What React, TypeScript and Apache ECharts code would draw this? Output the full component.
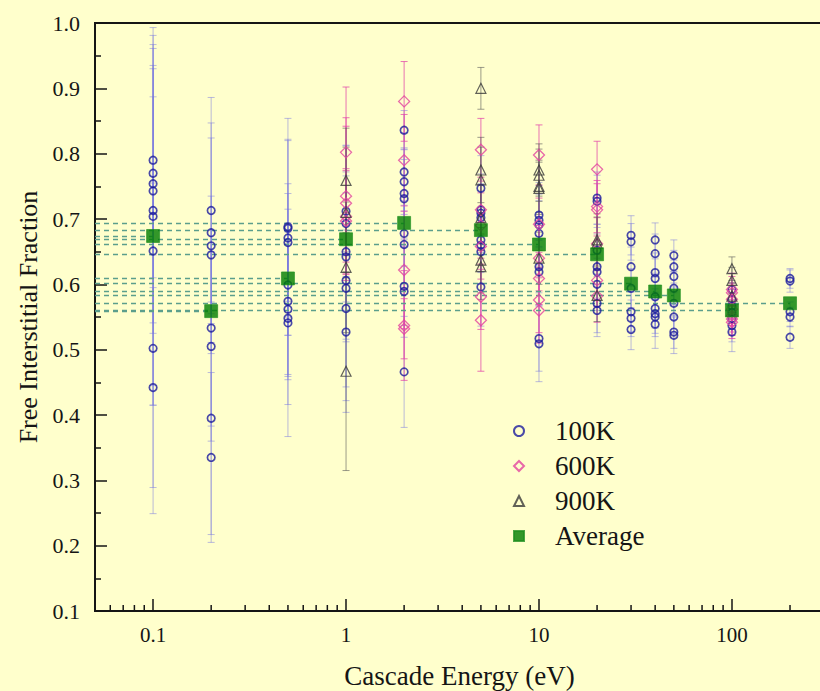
import React, { useEffect, useRef } from "react";
import * as echarts from "echarts";

// Axis ranges and ticks
const X_MIN = 0.05;
const X_MAX = 300;
const Y_MIN = 0.1;
const Y_MAX = 1.0;
const xMinorTicks = [
  0.06, 0.07, 0.08, 0.09, 0.2, 0.3, 0.4, 0.5, 0.6, 0.7, 0.8, 0.9,
  2, 3, 4, 5, 6, 7, 8, 9, 20, 30, 40, 50, 60, 70, 80, 90, 200,
];

// Average per cascade energy
const energies = [0.1, 0.2, 0.5, 1, 2, 5, 10, 20, 30, 40, 50, 100, 200];
const averages = [0.674, 0.559, 0.609, 0.669, 0.694, 0.683, 0.661, 0.646, 0.601, 0.589, 0.583, 0.56, 0.571];

// [energy (eV), free interstitial fraction, error]
const k100: [number, number, number][] = [
  [0.1, 0.79, 0.145], [0.1, 0.77, 0.16], [0.1, 0.754, 0.213], [0.1, 0.743, 0.218], [0.1, 0.713, 0.268],
  [0.1, 0.704, 0.289], [0.1, 0.651, 0.236], [0.1, 0.502, 0.253], [0.1, 0.442, 0.153],
  [0.2, 0.713, 0.173], [0.2, 0.679, 0.168], [0.2, 0.659, 0.165], [0.2, 0.645, 0.09], [0.2, 0.533, 0.15],
  [0.2, 0.505, 0.145], [0.2, 0.395, 0.178], [0.2, 0.335, 0.13],
  [0.5, 0.688, 0.166], [0.5, 0.686, 0.136], [0.5, 0.671, 0.149], [0.5, 0.664, 0.09], [0.5, 0.599, 0.14],
  [0.5, 0.574, 0.12], [0.5, 0.562, 0.1], [0.5, 0.548, 0.132], [0.5, 0.541, 0.174],
  [1, 0.712, 0.1], [1, 0.693, 0.12], [1, 0.65, 0.09], [1, 0.642, 0.13], [1, 0.606, 0.09],
  [1, 0.594, 0.172], [1, 0.563, 0.12], [1, 0.527, 0.123],
  [2, 0.836, 0.03], [2, 0.772, 0.06], [2, 0.757, 0.05], [2, 0.739, 0.07], [2, 0.731, 0.06],
  [2, 0.678, 0.05], [2, 0.661, 0.06], [2, 0.597, 0.06], [2, 0.589, 0.07], [2, 0.466, 0.085],
  [5, 0.747, 0.05], [5, 0.714, 0.04], [5, 0.709, 0.06], [5, 0.702, 0.05], [5, 0.668, 0.05],
  [5, 0.66, 0.04], [5, 0.65, 0.05], [5, 0.596, 0.06],
  [10, 0.706, 0.05], [10, 0.698, 0.04], [10, 0.691, 0.06], [10, 0.678, 0.05], [10, 0.627, 0.04],
  [10, 0.619, 0.05], [10, 0.517, 0.05], [10, 0.509, 0.058],
  [20, 0.732, 0.04], [20, 0.727, 0.04], [20, 0.652, 0.04], [20, 0.627, 0.05], [20, 0.619, 0.04],
  [20, 0.6, 0.04], [20, 0.571, 0.045], [20, 0.56, 0.04],
  [30, 0.675, 0.03], [30, 0.665, 0.028], [30, 0.627, 0.03], [30, 0.594, 0.03], [30, 0.558, 0.03],
  [30, 0.548, 0.028], [30, 0.531, 0.031],
  [40, 0.668, 0.026], [40, 0.647, 0.03], [40, 0.618, 0.03], [40, 0.609, 0.03], [40, 0.581, 0.03],
  [40, 0.563, 0.03], [40, 0.555, 0.03], [40, 0.55, 0.03], [40, 0.539, 0.037],
  [50, 0.644, 0.024], [50, 0.627, 0.025], [50, 0.612, 0.025], [50, 0.594, 0.025], [50, 0.571, 0.025],
  [50, 0.55, 0.025], [50, 0.527, 0.025], [50, 0.522, 0.028],
  [100, 0.592, 0.025], [100, 0.577, 0.025], [100, 0.567, 0.025], [100, 0.557, 0.025], [100, 0.547, 0.025],
  [100, 0.537, 0.025], [100, 0.527, 0.03],
  [200, 0.609, 0.015], [200, 0.605, 0.017], [200, 0.558, 0.015], [200, 0.55, 0.015], [200, 0.519, 0.017],
];

const k600: [number, number, number][] = [
  [1, 0.802, 0.1], [1, 0.735, 0.12], [1, 0.724, 0.118], [1, 0.704, 0.07], [1, 0.697, 0.08],
  [2, 0.88, 0.061], [2, 0.79, 0.07], [2, 0.622, 0.09], [2, 0.537, 0.084], [2, 0.532, 0.046],
  [5, 0.806, 0.048], [5, 0.714, 0.05], [5, 0.69, 0.05], [5, 0.658, 0.05], [5, 0.581, 0.05], [5, 0.545, 0.078],
  [10, 0.798, 0.046], [10, 0.692, 0.04], [10, 0.64, 0.05], [10, 0.609, 0.04], [10, 0.576, 0.05], [10, 0.56, 0.05],
  [20, 0.776, 0.043], [20, 0.719, 0.04], [20, 0.714, 0.04], [20, 0.662, 0.04], [20, 0.606, 0.04], [20, 0.582, 0.04],
  [100, 0.592, 0.025], [100, 0.587, 0.025], [100, 0.577, 0.025], [100, 0.562, 0.025], [100, 0.552, 0.025],
  [100, 0.547, 0.025], [100, 0.542, 0.025],
];

const k900: [number, number, number][] = [
  [1, 0.759, 0.08], [1, 0.71, 0.1], [1, 0.626, 0.1], [1, 0.467, 0.152],
  [5, 0.9, 0.032], [5, 0.775, 0.05], [5, 0.76, 0.05], [5, 0.702, 0.05], [5, 0.637, 0.05], [5, 0.627, 0.05],
  [10, 0.775, 0.04], [10, 0.767, 0.04], [10, 0.75, 0.04], [10, 0.747, 0.04], [10, 0.64, 0.04],
  [20, 0.668, 0.04], [20, 0.663, 0.04], [20, 0.583, 0.04],
  [100, 0.624, 0.018], [100, 0.606, 0.02], [100, 0.582, 0.02],
];

const FONT = "'Liberation Serif', 'Times New Roman', serif";
const INK = "#151515";

function errorBars(name: string, rows: [number, number, number][], color: string) {
  return {
    type: "custom",
    name,
    silent: true,
    z: 1,
    data: rows.map((r) => [r[0], r[1], r[2]]),
    encode: { x: 0, y: 1 },
    renderItem: (_params: any, api: any) => {
      const x = api.value(0);
      const y = api.value(1);
      const e = api.value(2);
      const hi = api.coord([x, y + e]);
      const lo = api.coord([x, y - e]);
      const w = 3.5;
      const style = { stroke: color, lineWidth: 1 };
      return {
        type: "group",
        children: [
          { type: "line", shape: { x1: hi[0], y1: hi[1], x2: lo[0], y2: lo[1] }, style },
          { type: "line", shape: { x1: hi[0] - w, y1: hi[1], x2: hi[0] + w, y2: hi[1] }, style },
          { type: "line", shape: { x1: lo[0] - w, y1: lo[1], x2: lo[0] + w, y2: lo[1] }, style },
        ],
      };
    },
  };
}

export default function App() {
  const ref = useRef<HTMLDivElement>(null);

  useEffect(() => {
    const chart = echarts.init(ref.current!, null, { renderer: "svg" });
    const option: any = {
      animation: false,
      backgroundColor: "#ffffcc",
      grid: {
        left: 95,
        top: 23,
        width: 729,
        height: 588,
        outerBoundsMode: "none",
        containLabel: false,
        show: true,
        borderColor: INK,
        borderWidth: 2,
        backgroundColor: "transparent",
      },
      legend: {
        orient: "vertical",
        left: 508,
        top: 412,
        itemWidth: 10,
        itemHeight: 10,
        itemGap: 7,
        selectedMode: false,
        data: ["100K", "600K", "900K", "Average"],
        textStyle: {
          fontFamily: FONT,
          fontSize: 27,
          color: INK,
          lineHeight: 28,
          padding: [0, 0, 0, 26],
        },
      },
      xAxis: {
        type: "log",
        logBase: 10,
        min: X_MIN,
        max: X_MAX,
        name: "Cascade Energy (eV)",
        nameLocation: "middle",
        nameGap: 51,
        nameTextStyle: { fontFamily: FONT, fontSize: 27, color: INK },
        axisLine: { show: true, lineStyle: { color: INK, width: 2 } },
        axisTick: { show: true, inside: true, length: 12, lineStyle: { color: INK, width: 1.5 } },
        axisLabel: {
          fontFamily: FONT,
          fontSize: 21,
          color: INK,
          margin: 13,
          showMinLabel: false,
          showMaxLabel: false,
          formatter: (v: number) => `${parseFloat(Number(v).toPrecision(3))}`,
        },
        splitLine: { show: false },
      },
      yAxis: {
        type: "value",
        min: Y_MIN,
        max: Y_MAX,
        interval: 0.1,
        name: "Free Interstitial Fraction",
        nameLocation: "middle",
        nameGap: 53,
        nameTextStyle: { fontFamily: FONT, fontSize: 26, color: INK },
        axisLine: { show: true, lineStyle: { color: INK, width: 2 } },
        axisTick: { show: true, inside: true, length: 12, lineStyle: { color: INK, width: 1.5 } },
        minorTick: { show: true, splitNumber: 2, length: 6, lineStyle: { color: INK, width: 1.5 } },
        axisLabel: {
          fontFamily: FONT,
          fontSize: 22,
          color: INK,
          margin: 15,
          formatter: (v: number) => Number(v).toFixed(1),
        },
        splitLine: { show: false },
      },
      series: [
        {
          type: "custom",
          name: "xMinor",
          silent: true,
          z: 6,
          data: xMinorTicks.map((v) => [v, Y_MIN]),
          encode: { x: 0, y: 1 },
          renderItem: (_p: any, api: any) => {
            const p = api.coord([api.value(0), api.value(1)]);
            return {
              type: "line",
              shape: { x1: p[0], y1: p[1], x2: p[0], y2: p[1] - 6 },
              style: { stroke: INK, lineWidth: 1.5 },
            };
          },
        },
        errorBars("err100", k100, "rgba(120,120,225,0.5)"),
        errorBars("err600", k600, "rgba(225,70,170,0.75)"),
        errorBars("err900", k900, "rgba(90,90,90,0.6)"),
        {
          type: "scatter",
          name: "100K",
          z: 3,
          symbol: "circle",
          symbolSize: 7.5,
          data: k100.map((r) => [r[0], r[1]]),
          itemStyle: { color: "rgba(0,0,0,0)", borderColor: "#1c1c9e", borderWidth: 1.7 },
        },
        {
          type: "scatter",
          name: "600K",
          z: 3,
          symbol: "diamond",
          symbolSize: 11,
          data: k600.map((r) => [r[0], r[1]]),
          itemStyle: { color: "rgba(0,0,0,0)", borderColor: "#e2429f", borderWidth: 1.3 },
        },
        {
          type: "scatter",
          name: "900K",
          z: 3,
          symbol: "triangle",
          symbolSize: 10,
          data: k900.map((r) => [r[0], r[1]]),
          itemStyle: { color: "rgba(0,0,0,0)", borderColor: "#3a3a3a", borderWidth: 1.2 },
        },
        {
          type: "scatter",
          name: "Average",
          z: 5,
          symbol: "rect",
          symbolSize: 13,
          data: energies.map((e, i) => [e, averages[i]]),
          itemStyle: { color: "#007d00", borderColor: "#1f8f1f", borderWidth: 0.8 },
          markLine: {
            silent: true,
            symbol: "none",
            label: { show: false },
            z: 2,
            lineStyle: { color: "#5b9e8c", type: [5, 4], width: 1.3 },
            data: energies.map((e, i) => [
              { coord: [X_MIN, averages[i]] },
              { coord: [e, averages[i]] },
            ]),
          },
        },
      ],
    };
    chart.setOption(option);
    return () => chart.dispose();
  }, []);

  return (
    <div
      ref={ref}
      style={{ position: "absolute", left: 0, top: 0, width: 820, height: 691, background: "#ffffcc" }}
    />
  );
}
